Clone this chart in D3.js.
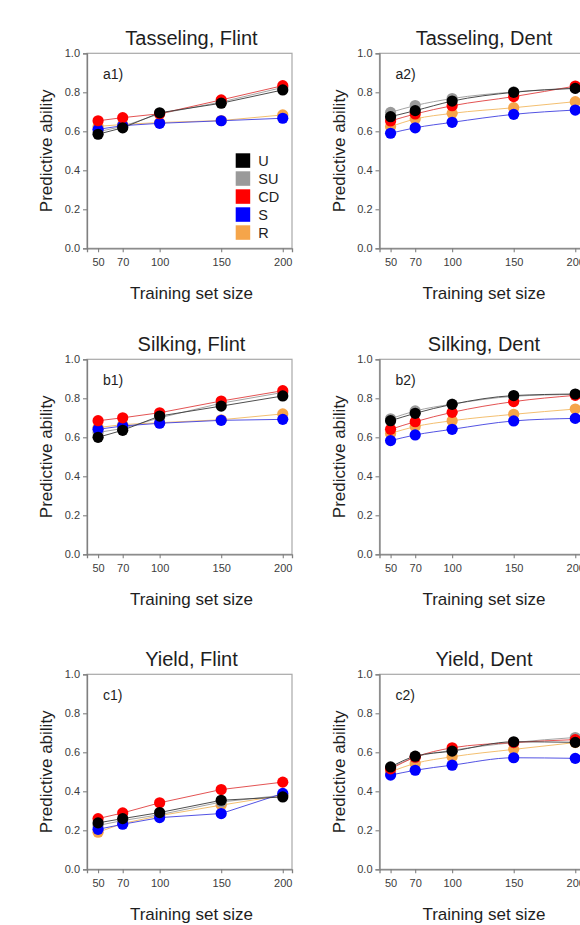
<!DOCTYPE html>
<html>
<head>
<meta charset="utf-8">
<script src="https://cdn.jsdelivr.net/npm/d3@7"></script>
<style>
  html, body { margin: 0; padding: 0; background: #fff; }
  svg { display: block; }
  text { font-family: "Liberation Sans", Arial, sans-serif; }
</style>
</head>
<body>
<svg id="chart" width="580" height="925"></svg>
<script>
// Training set sizes on the x axis
const trainingSizes = [50, 70, 100, 150, 200];
const yTicks = [0, 0.2, 0.4, 0.6, 0.8, 1.0];

// Sampling strategies (legend order)
const strategies = ["U", "SU", "CD", "S", "R"];
const markerColors = ["#000000", "#9a9a9a", "#ff0000", "#0000ff", "#f5a54a"];
const lineColors = ["#3a3a3a", "#9a9a9a", "#e04040", "#4040e0", "#f2b860"];

// Predictive ability per strategy (rows follow `strategies`)
const tasselingFlint = [
  [0.585, 0.618, 0.695, 0.744, 0.812],
  [0.598, 0.625, 0.690, 0.750, 0.825],
  [0.654, 0.670, 0.690, 0.761, 0.834],
  [0.610, 0.629, 0.641, 0.654, 0.667],
  [0.625, 0.635, 0.645, 0.655, 0.684]
];
const tasselingDent = [
  [0.675, 0.706, 0.755, 0.800, 0.820],
  [0.697, 0.732, 0.768, 0.802, 0.822],
  [0.653, 0.689, 0.731, 0.778, 0.832],
  [0.590, 0.618, 0.646, 0.687, 0.709],
  [0.624, 0.663, 0.692, 0.721, 0.752]
];
const silkingFlint = [
  [0.600, 0.636, 0.709, 0.760, 0.812],
  [0.625, 0.645, 0.700, 0.775, 0.830],
  [0.685, 0.700, 0.726, 0.786, 0.839],
  [0.641, 0.658, 0.672, 0.687, 0.692],
  [0.650, 0.665, 0.675, 0.690, 0.720]
];
const silkingDent = [
  [0.685, 0.723, 0.769, 0.814, 0.822],
  [0.695, 0.735, 0.770, 0.810, 0.820],
  [0.641, 0.680, 0.728, 0.783, 0.815],
  [0.583, 0.612, 0.641, 0.684, 0.697],
  [0.620, 0.655, 0.685, 0.718, 0.745]
];
const yieldFlint = [
  [0.238, 0.260, 0.291, 0.354, 0.371],
  [0.225, 0.250, 0.280, 0.345, 0.380],
  [0.260, 0.289, 0.341, 0.409, 0.447],
  [0.205, 0.231, 0.265, 0.286, 0.389],
  [0.190, 0.235, 0.275, 0.329, 0.380]
];
const yieldDent = [
  [0.525, 0.580, 0.606, 0.654, 0.651],
  [0.520, 0.575, 0.610, 0.650, 0.676],
  [0.515, 0.575, 0.623, 0.650, 0.665],
  [0.483, 0.508, 0.534, 0.572, 0.569],
  [0.500, 0.543, 0.577, 0.615, 0.650]
];

const panelTitles = ["Tasseling, Flint", "Tasseling, Dent", "Silking, Flint", "Silking, Dent", "Yield, Flint", "Yield, Dent"];
const panelTags = ["a1)", "a2)", "b1)", "b2)", "c1)", "c2)"];
const panelData = [tasselingFlint, tasselingDent, silkingFlint, silkingDent, yieldFlint, yieldDent];

// layout
const colLeft = [87, 379.5];
const rowTop = [53.3, 359.3, 674.3];
const plotW = 205, plotH = 195;
const drawOrder = [4, 1, 3, 2, 0]; // R, SU, S, CD, U (U on top)

const svg = d3.select("#chart");

panelData.forEach((data, p) => {
  const col = p % 2, row = Math.floor(p / 2);
  const x0 = colLeft[col], y0 = rowTop[row];
  const g = svg.append("g").attr("transform", `translate(${x0},${y0})`);

  const x = d3.scaleLinear().domain([41, 207.5]).range([0, plotW]);
  const y = d3.scaleLinear().domain([0, 1]).range([plotH, 0]);

  // frame
  g.append("rect").attr("x", 0).attr("y", 0).attr("width", plotW).attr("height", plotH)
    .attr("fill", "none").attr("stroke", "#a8a8a8").attr("stroke-width", 1.2);

  // axes
  const yAxis = g.append("g")
    .call(d3.axisLeft(y).tickValues(yTicks).tickFormat(d3.format(".1f")).tickSize(4).tickPadding(3));
  const xAxis = g.append("g").attr("transform", `translate(0,${plotH})`)
    .call(d3.axisBottom(x).tickValues(trainingSizes).tickSize(4).tickPadding(6));
  [yAxis, xAxis].forEach(a => {
    a.select(".domain").attr("stroke", "#808080").attr("stroke-width", 1.3);
    a.selectAll(".tick line").attr("stroke", "#808080").attr("stroke-width", 1.1);
    a.selectAll(".tick text").attr("fill", "#3c3c3c").attr("font-size", "11px")
      .style("font-family", "'Liberation Sans', Arial, sans-serif");
  });

  // titles and labels
  g.append("text").attr("x", plotW / 2 + 2).attr("y", -8).attr("text-anchor", "middle")
    .attr("font-size", "20px").attr("fill", "#1e1e1e").text(panelTitles[p]);
  g.append("text").attr("x", plotW / 2 + 2).attr("y", plotH + 51).attr("text-anchor", "middle")
    .attr("font-size", "17px").attr("fill", "#1e1e1e").text("Training set size");
  g.append("text").attr("transform", `translate(-35,${plotH / 2}) rotate(-90)`)
    .attr("text-anchor", "middle").attr("font-size", "17px").attr("fill", "#1e1e1e")
    .text("Predictive ability");
  g.append("text").attr("x", 16).attr("y", 26).attr("font-size", "14px").attr("fill", "#1e1e1e")
    .text(panelTags[p]);

  // series lines
  const line = d3.line()
    .x((d, i) => x(trainingSizes[i]))
    .y(d => y(d))
    .curve(col === 1 ? d3.curveMonotoneX : d3.curveLinear);

  drawOrder.forEach(s => {
    g.append("path").datum(data[s]).attr("d", line)
      .attr("fill", "none").attr("stroke", lineColors[s]).attr("stroke-width", 0.9);
  });

  // markers
  drawOrder.forEach(s => {
    g.append("g").selectAll("circle").data(data[s]).join("circle")
      .attr("cx", (d, i) => x(trainingSizes[i]))
      .attr("cy", d => y(d))
      .attr("r", 5.6)
      .attr("fill", markerColors[s]);
  });

  // legend in first panel
  if (p === 0) {
    const lg = g.append("g").attr("transform", "translate(148.7,100)");
    strategies.forEach((name, i) => {
      lg.append("rect").attr("x", 0).attr("y", i * 18).attr("width", 14.5).attr("height", 14.5)
        .attr("fill", markerColors[i]);
      lg.append("text").attr("x", 22.6).attr("y", i * 18 + 13).attr("font-size", "14.5px")
        .attr("fill", "#1e1e1e").text(name);
    });
  }
});
</script>
</body>
</html>
